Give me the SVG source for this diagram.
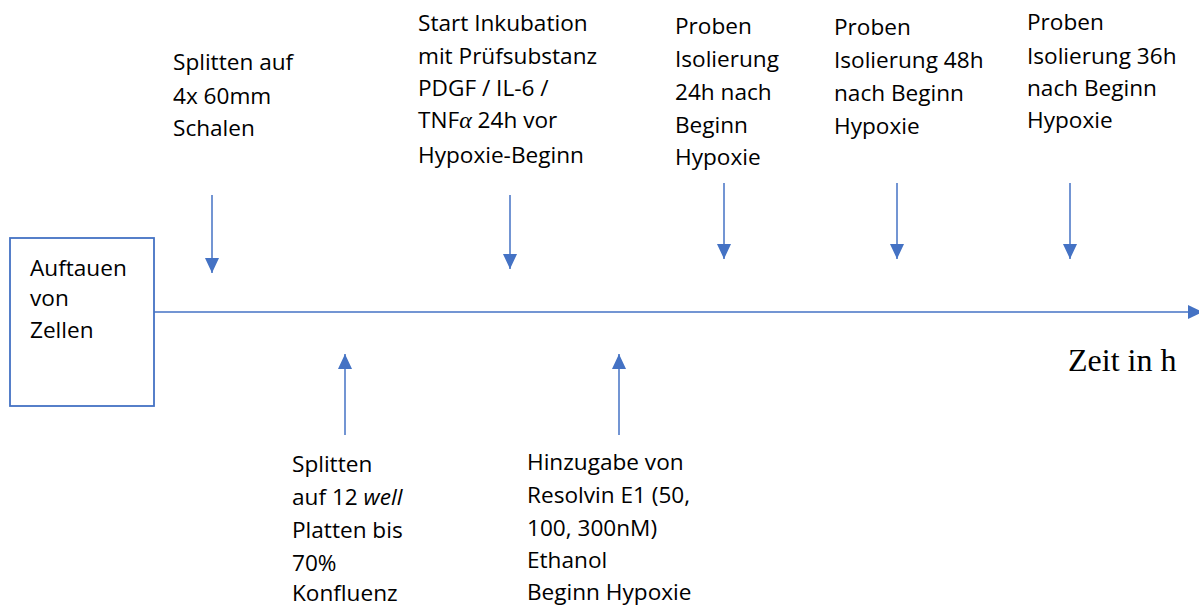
<svg xmlns="http://www.w3.org/2000/svg" width="1199" height="607" viewBox="0 0 1199 607">
<style>
.t{font-family:"Open Sans","Liberation Sans",sans-serif;font-size:22.6px;fill:#000}
.s{font-family:"Liberation Serif",serif;font-size:32px;fill:#000}
.c{stroke:#4472C4;stroke-width:1.5;fill:none}
</style>
<defs>
<marker id="ah" markerUnits="userSpaceOnUse" markerWidth="15" markerHeight="14" refX="15" refY="7" orient="auto" viewBox="0 0 15 14">
<path d="M0,0 L15,7 L0,14 Z" fill="#4472C4"/>
</marker>
</defs>
<rect width="1199" height="607" fill="#fff"/>
<g id="connectors">
<line class="c" x1="154" y1="312" x2="1203" y2="312" marker-end="url(#ah)"/>
<line class="c" x1="212" y1="195" x2="212" y2="273" marker-end="url(#ah)"/>
<line class="c" x1="510" y1="195" x2="510" y2="269" marker-end="url(#ah)"/>
<line class="c" x1="724" y1="183" x2="724" y2="259" marker-end="url(#ah)"/>
<line class="c" x1="897" y1="183" x2="897" y2="259" marker-end="url(#ah)"/>
<line class="c" x1="1070" y1="183" x2="1070" y2="259" marker-end="url(#ah)"/>
<line class="c" x1="345" y1="435" x2="345" y2="354" marker-end="url(#ah)"/>
<line class="c" x1="619" y1="435" x2="619" y2="354" marker-end="url(#ah)"/>
</g>
<g id="start">
<rect x="10" y="238" width="144" height="168" fill="#fff" stroke="#4472C4" stroke-width="1.8"/>
<text class="t" x="30" y="276">Auftauen</text>
<text class="t" x="30" y="306">von</text>
<text class="t" x="30" y="338">Zellen</text>
</g>
<g id="split1">
<text class="t" x="173" y="70">Splitten auf</text>
<text class="t" x="173" y="104">4x 60mm</text>
<text class="t" x="173" y="136">Schalen</text>
</g>
<g id="inkubation">
<text class="t" x="418" y="31">Start Inkubation</text>
<text class="t" x="418" y="64">mit Prüfsubstanz</text>
<text class="t" x="418" y="96">PDGF / IL-6 /</text>
<text class="t" x="418" y="128">TNF<tspan font-family="Liberation Serif,serif" font-style="italic" font-size="24">α</tspan> 24h vor</text>
<text class="t" x="418" y="163">Hypoxie-Beginn</text>
</g>
<g id="probe24">
<text class="t" x="675" y="34">Proben</text>
<text class="t" x="675" y="67">Isolierung</text>
<text class="t" x="675" y="100">24h nach</text>
<text class="t" x="675" y="133">Beginn</text>
<text class="t" x="675" y="165">Hypoxie</text>
</g>
<g id="probe48">
<text class="t" x="834" y="35">Proben</text>
<text class="t" x="834" y="68">Isolierung 48h</text>
<text class="t" x="834" y="101">nach Beginn</text>
<text class="t" x="834" y="134">Hypoxie</text>
</g>
<g id="probe36">
<text class="t" x="1027" y="30">Proben</text>
<text class="t" x="1027" y="64">Isolierung 36h</text>
<text class="t" x="1027" y="96">nach Beginn</text>
<text class="t" x="1027" y="128">Hypoxie</text>
</g>
<g id="split2">
<text class="t" x="292" y="472">Splitten</text>
<text class="t" x="292" y="505">auf 12 <tspan font-style="italic">well</tspan></text>
<text class="t" x="292" y="538">Platten bis</text>
<text class="t" x="292" y="571">70%</text>
<text class="t" x="292" y="601">Konfluenz</text>
</g>
<g id="resolvin">
<text class="t" x="527" y="470">Hinzugabe von</text>
<text class="t" x="527" y="503">Resolvin E1 (50,</text>
<text class="t" x="527" y="536">100, 300nM)</text>
<text class="t" x="527" y="568">Ethanol</text>
<text class="t" x="527" y="600">Beginn Hypoxie</text>
</g>
<g id="axislabel">
<text class="s" x="1068" y="371">Zeit in h</text>
</g>
</svg>
